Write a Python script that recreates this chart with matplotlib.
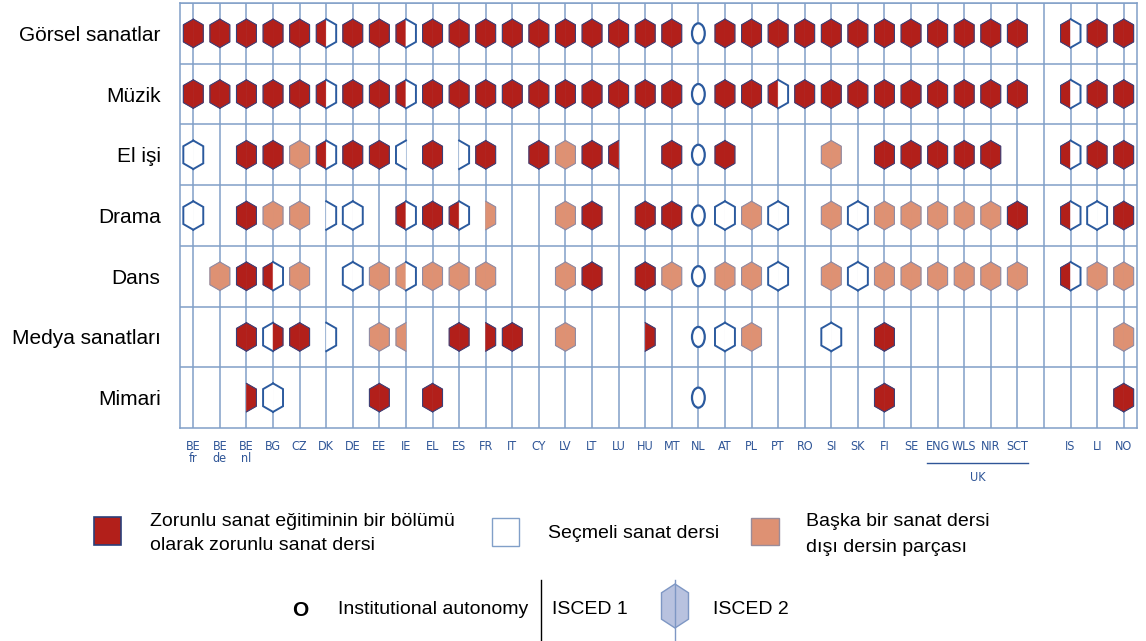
import numpy as np
import matplotlib
matplotlib.use('Agg')
import matplotlib.pyplot as plt
from matplotlib.patches import Polygon, Ellipse, Rectangle

plt.rcParams['font.family'] = ['Liberation Sans', 'DejaVu Sans']

# Ülkeler (sütunlar), boş sütun IS/LI/NO öncesi boşluk.
paises = ['BE\nfr', 'BE\nde', 'BE\nnl', 'BG', 'CZ', 'DK', 'DE', 'EE', 'IE', 'EL', 'ES', 'FR',
          'IT', 'CY', 'LV', 'LT', 'LU', 'HU', 'MT', 'NL', 'AT', 'PL', 'PT', 'RO', 'SI', 'SK',
          'FI', 'SE', 'ENG', 'WLS', 'NIR', 'SCT', '', 'IS', 'LI', 'NO']
materias = ['Görsel sanatlar', 'Müzik', 'El işi', 'Drama', 'Dans', 'Medya sanatları', 'Mimari']

# Codigo por celda: izquierda = ISCED 1, derecha = ISCED 2.
# R = zorunlu, O = seçmeli, S = başka ders, - = nada, A = autonomía institucional.
gorsel = 'RR RR RR RR RR RO RR RR RO RR RR RR RR RR RR RR RR RR RR A RR RR RR RR RR RR RR RR RR RR RR RR -- RO RR RR'.split()
muzik  = 'RR RR RR RR RR RO RR RR RO RR RR RR RR RR RR RR RR RR RR A RR RR RO RR RR RR RR RR RR RR RR RR -- RO RR RR'.split()
el_isi = 'OO -- RR RR SS RO RR RR O- RR -O RR -- RR SS RR R- -- RR A RR -- -- -- SS -- RR RR RR RR RR -- -- RO RR RR'.split()
drama  = 'OO -- RR SS SS -O OO -- RO RR RO -S -- -- SS RR -- RR RR A OO SS OO -- SS OO SS SS SS SS SS RR -- RO OO RR'.split()
dans   = '-- SS RR RO SS -- OO SS SO SS SS SS -- -- SS RR -- RR SS A SS SS OO -- SS OO SS SS SS SS SS SS -- RO SS SS'.split()
medya  = '-- -- RR OR RR -O -- SS S- -- RR -R RR -- SS -- -- -R -- A OO SS -- -- OO -- RR -- -- -- -- -- -- -- -- SS'.split()
mimari = '-- -- -R OO -- -- -- RR -- RR -- -- -- -- -- -- -- -- -- A -- -- -- -- -- -- RR -- -- -- -- -- -- -- -- RR'.split()

filas = [gorsel, muzik, el_isi, drama, dans, medya, mimari]
for f in filas:
    assert len(f) == len(paises)

ROJO = '#B21F1A'
SALMON = '#DE9173'
AZUL = '#2B5A9E'
GRID = '#819FC8'
relleno = {'R': ROJO, 'S': SALMON, 'O': 'white'}
borde = {'R': '#3B3F78', 'S': '#8E8CA6', 'O': AZUL}
grosor = {'R': 0.8, 'S': 0.8, 'O': 1.4}

W = 0.75   # ancho del hexágono (unidades de columna)
H = 0.47   # alto del hexágono (unidades de fila)


def medio_hex(cx, cy, w, h, lado):
    a = 0.2 * h
    return [(cx, cy - h / 2), (cx + lado * w / 2, cy - h / 2 + a),
            (cx + lado * w / 2, cy + h / 2 - a), (cx, cy + h / 2)]


fig = plt.figure(figsize=(11.46, 6.41), dpi=100)

# Eje de la leyenda (coordenadas en píxeles).
lax = fig.add_axes([0, 0, 1, 1])
lax.set_xlim(0, 1146)
lax.set_ylim(641, 0)
lax.axis('off')

ax = fig.add_axes([180 / 1146, 213 / 641, 957 / 1146, 425 / 641])
ax.set_xlim(-0.5, len(paises) - 0.5)
ax.set_ylim(len(materias) - 0.5, -0.5)

ax.vlines(np.arange(len(paises)), -0.5, len(materias) - 0.5, color=GRID, lw=1.1, zorder=1)
ax.hlines(np.arange(len(materias)) - 0.5, -0.5, len(paises) - 0.5, color=GRID, lw=1.1, zorder=1)
for s in ax.spines.values():
    s.set_color(GRID)
    s.set_linewidth(1.1)

for i, fila in enumerate(filas):
    for j, cod in enumerate(fila):
        if cod == 'A':
            ax.add_patch(Ellipse((j, i), 0.48, 0.33, fc='white', ec=AZUL, lw=1.6, zorder=3))
            continue
        for lado, c in zip((-1, 1), cod):
            if c == '-':
                continue
            pts = medio_hex(j, i, W, H, lado)
            ax.add_patch(Polygon(pts, closed=True, fc=relleno[c], ec=relleno[c], lw=0.4, zorder=3))
        for lado, c in zip((-1, 1), cod):
            if c == '-':
                continue
            pts = np.array(medio_hex(j, i, W, H, lado))
            ax.plot(pts[:, 0], pts[:, 1], color=borde[c], lw=grosor[c], zorder=4,
                    solid_joinstyle='miter')

ax.set_yticks(range(len(materias)))
ax.set_yticklabels(materias, fontsize=15)
ax.set_xticks(range(len(paises)))
ax.set_xticklabels(paises, fontsize=9, color='#2F5597', linespacing=0.9,
                   family='DejaVu Sans', fontstretch='condensed')
ax.tick_params(axis='y', length=0, pad=14)
ax.tick_params(axis='x', length=0, pad=9)

# Llave del Reino Unido.
xt = ax.get_xaxis_transform()
ax.plot([27.6, 31.4], [-0.083, -0.083], color='#2F5597', lw=1, transform=xt, clip_on=False)
ax.text(29.5, -0.117, 'UK', transform=xt, ha='center', va='center', fontsize=9,
        color='#2F5597', family='DejaVu Sans', fontstretch='condensed')

# Leyenda.
lax.add_patch(Rectangle((94, 517), 27, 28, fc=ROJO, ec='#2B3F7A', lw=1.2))
lax.text(150, 522, 'Zorunlu sanat eğitiminin bir bölümü', fontsize=14, va='center')
lax.text(150, 546, 'olarak zorunlu sanat dersi', fontsize=14, va='center')
lax.add_patch(Rectangle((492, 518), 27, 28, fc='white', ec=GRID, lw=1))
lax.text(548, 533, 'Seçmeli sanat dersi', fontsize=14, va='center')
lax.add_patch(Rectangle((751, 518), 28, 27, fc=SALMON, ec='#9A8C9A', lw=1))
lax.text(806, 521, 'Başka bir sanat dersi', fontsize=14, va='center')
lax.text(806, 547, 'dışı dersin parçası', fontsize=14, va='center')

lax.text(300, 610, 'O', fontsize=15, fontweight='bold', ha='center', va='center')
lax.text(338, 610, 'Institutional autonomy', fontsize=14, va='center')
lax.plot([541, 541], [580, 640], color='black', lw=1)
lax.text(552, 610, 'ISCED 1', fontsize=14, va='center')
hx = medio_hex(675, 606, 27, 44, -1) + medio_hex(675, 606, 27, 44, 1)[::-1]
lax.add_patch(Polygon(hx, closed=True, fc='#B8C2DF', ec='#7E97C4', lw=1))
lax.plot([675, 675], [580, 640], color='#7E97C4', lw=1)
lax.text(713, 610, 'ISCED 2', fontsize=14, va='center')

fig.savefig('out.png', dpi=100)
